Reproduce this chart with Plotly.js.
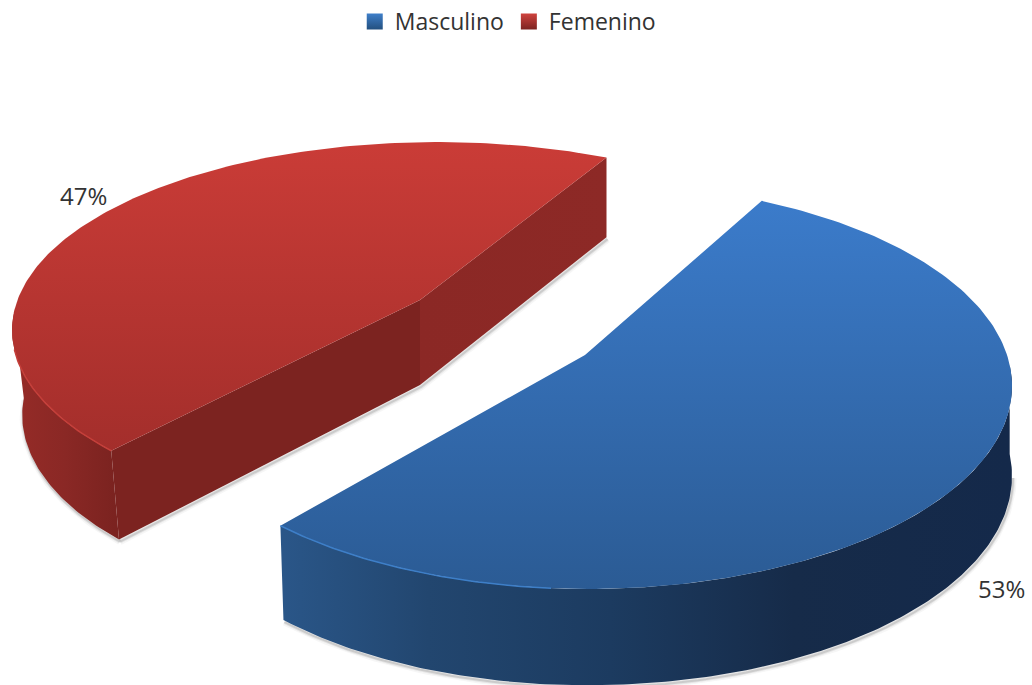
<!DOCTYPE html>
<html><head><meta charset="utf-8">
<script src="https://cdn.plot.ly/plotly-3.0.1.min.js"></script>
<style>html,body{margin:0;padding:0;background:#fff}#c{width:1032px;height:685px}</style></head>
<body><div id="c"></div>
<script>
const categories = ['Masculino', 'Femenino'];
const values = [53, 47];

// projected ellipse of each slice; dir = +1 anticlockwise, -1 clockwise; warp = perspective stretch of the sweep
const blue = {ax:585, ay:355, cx:588, cy:386, rx:424, ry:203, t0:65.8, dir:-1, warp:1.0603, D:90, taper:0.01};
const red  = {ax:420, ay:300, cx:437, cy:330, rx:425, ry:188, t0:66.5, dir:1,  warp:0.907, D:85, taper:0.025};

function upper(g, deg){
  const t = deg*Math.PI/180;
  return [g.cx + g.rx*Math.cos(t), g.cy - g.ry*Math.sin(t)];
}
function lower(g, deg){
  const s = Math.sin(deg*Math.PI/180), p = upper(g, deg);
  return [p[0] + Math.max(0, g.ax - p[0])*g.taper, p[1] + g.D*(1 - 0.07*s)];
}
function lowApex(g){ return [g.ax, g.ay + g.D]; }
function steps(a, b, n){ const o=[]; for(let i=0;i<=n;i++) o.push(a+(b-a)*i/n); return o; }
const X = p => p.map(q => q[0]), Y = p => p.map(q => q[1]);

function poly(pts, grad){
  return {type:'scatter', mode:'lines', x:X(pts), y:Y(pts), fill:'toself',
    fillgradient:grad, line:{width:0}, hoverinfo:'skip', showlegend:false};
}
function edge(pts, color, width){
  return {type:'scatter', mode:'lines', x:X(pts), y:Y(pts),
    line:{color:color, width:width}, hoverinfo:'skip', showlegend:false};
}
function vgrad(c0, c1, a, b){ return {type:'vertical', colorscale:[[0,c0],[1,c1]], start:a, stop:b}; }
function hgrad(stops, a, b){ return {type:'horizontal', colorscale:stops, start:a, stop:b}; }

const blueEnd = blue.t0 + blue.dir*360*values[0]/100*blue.warp;
const redEnd  = red.t0  + red.dir*360*values[1]/100*red.warp;
const blueArc = steps(blue.t0, blueEnd, 200);
const redArc  = steps(red.t0, redEnd, 200);

const traces = [];

// soft shadows under the bottom edges
const blueFront = steps(blueEnd, 0, 120).map(a => lower(blue, a));
const redFront  = steps(175, redEnd, 50).map(a => lower(red, a));
const redInner  = [lower(red, redEnd), lowApex(red), lower(red, red.t0)];
[[7,'rgba(140,140,140,0.08)'],[4,'rgba(130,130,130,0.14)'],[2,'rgba(120,120,120,0.24)']].forEach(s=>{
  const sh = p => p.map(q => [q[0]+1, q[1]+2]);
  traces.push(edge(sh(blueFront), s[1], s[0]));
  traces.push(edge(sh(redFront), s[1], s[0]));
  traces.push(edge(sh(redInner), s[1], s[0]));
});

// Femenino side walls
const redRim = steps(175, redEnd, 60);
traces.push(poly(redRim.map(a=>upper(red,a)).concat(redRim.slice().reverse().map(a=>lower(red,a))),
  hgrad([[0,'#952b27'],[0.5,'#8a2825'],[1,'#7b2320']], 15, 115)));
const a0 = upper(red, redEnd), a1 = lower(red, redEnd);
traces.push(poly([a0, [red.ax, red.ay], lowApex(red), a1], hgrad([[0,'#7c2320'],[1,'#7c2320']], 100, 430)));
traces.push(poly([[red.ax, red.ay], upper(red,red.t0), lower(red,red.t0), lowApex(red)],
  hgrad([[0,'#8b2825'],[1,'#8d2926']], 420, 610)));

// Femenino top
traces.push(poly(redArc.map(a=>upper(red,a)).concat([[red.ax,red.ay]]),
  vgrad('#ca3c37', '#a32e2b', 142, 455)));
traces.push(edge(steps(186, redEnd, 40).map(a=>upper(red,a)), '#c53f3a', 1.5));

// Masculino side wall
const blueRim = steps(blueEnd, 6, 200);
traces.push(poly(blueRim.map(a=>upper(blue,a)).concat(blueRim.slice().reverse().map(a=>lower(blue,a))),
  hgrad([[0,'#2a5688'],[0.2,'#22466f'],[0.45,'#1c3b60'],[0.7,'#162b49'],[1,'#14294a']], 283, 1012)));

// Masculino top
traces.push(poly(blueArc.map(a=>upper(blue,a)).concat([[blue.ax,blue.ay]]),
  vgrad('#3b7bca', '#2b5b94', 205, 590)));
traces.push(edge(steps(blueEnd, -95, 60).map(a=>upper(blue,a)), '#3e7fc8', 1.5));

// legend entries
const legendColors = [['#3f7fca','#23507f'],['#d0433e','#7c2320']];
categories.forEach((name,i)=>{
  traces.push({type:'scatter', mode:'markers', x:[null], y:[null], name:name, showlegend:true,
    marker:{symbol:'square', size:16, color:legendColors[i][0],
      gradient:{type:'vertical', color:legendColors[i][1]}}});
});

const layout = {
  width:1032, height:685, margin:{l:0,r:0,t:0,b:0},
  paper_bgcolor:'#fff', plot_bgcolor:'#fff',
  xaxis:{range:[0,1032], visible:false, fixedrange:true},
  yaxis:{range:[685,0], visible:false, fixedrange:true},
  font:{family:'"Open Sans", sans-serif', color:'#333'},
  legend:{orientation:'h', x:0.492, xanchor:'center', y:1, yanchor:'top',
    font:{size:23, color:'#333'}, bgcolor:'rgba(0,0,0,0)'},
  annotations:[
    {text:values[1]+'%', x:83, y:195, xref:'x', yref:'y', showarrow:false, font:{size:24, color:'#333'}},
    {text:values[0]+'%', x:1001, y:588, xref:'x', yref:'y', showarrow:false, font:{size:24, color:'#333'}}
  ]
};
Plotly.newPlot('c', traces, layout, {displayModeBar:false, staticPlot:true});
</script></body></html>
